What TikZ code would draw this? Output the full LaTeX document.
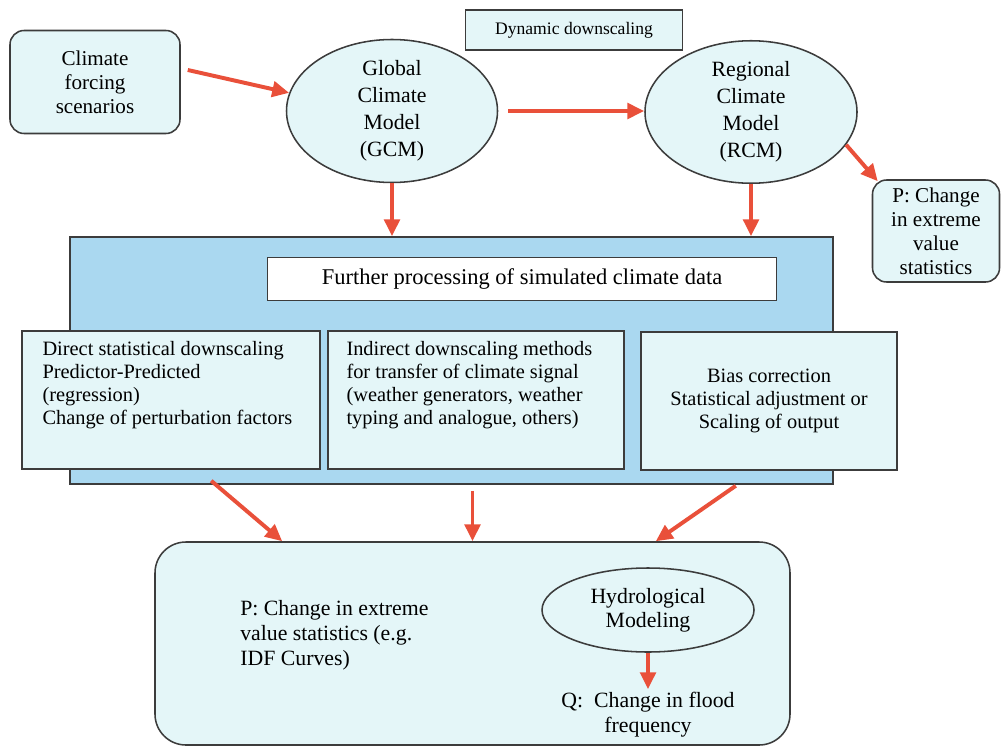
\documentclass[tikz,border=0pt]{standalone}
\usepackage{fontspec}
\setmainfont{Liberation Serif}
\usetikzlibrary{shapes.geometric,arrows.meta,calc}

\definecolor{boxfill}{HTML}{E4F6F8}
\definecolor{bigblue}{HTML}{AAD8F0}
\definecolor{arrowred}{HTML}{E9503A}
\definecolor{edgegray}{HTML}{3C3C3C}
\newcommand{\px}{0.025cm}

\tikzset{
  box/.style={draw=edgegray, line width=1.1pt, fill=boxfill, align=center, inner sep=0pt},
  roundbox/.style={box, rounded corners=10pt},
  oval/.style={box, ellipse},
  arr/.style={draw=arrowred, line width=2.8pt, -{Triangle[length=12pt,width=11pt]}},
  bigtxt/.style={font=\fontsize{15.5}{19.2}\selectfont},
  txt/.style={font=\fontsize{15}{17}\selectfont},
  paneltxt/.style={font=\fontsize{14.5}{16.4}\selectfont, align=left, inner sep=0pt}
}

\begin{document}
\begin{tikzpicture}[x=\px, y=-\px]
    \useasboundingbox (0,0) rectangle (1003,749);

    % Top row: scenarios, global and regional models
    \node[roundbox, txt, minimum width=170*\px, minimum height=103*\px] (forcing) at (95,82) {Climate\\forcing\\scenarios};
    \node[box, font=\fontsize{12.5}{14}\selectfont, minimum width=217*\px, minimum height=40*\px] (dyn) at (574,30) {Dynamic downscaling};
    \node[oval, bigtxt, minimum width=211*\px, minimum height=143*\px] (gcm) at (392,111) {Global\\Climate\\Model\\(GCM)};
    \node[oval, bigtxt, minimum width=212*\px, minimum height=141*\px] (rcm) at (751,112) {Regional\\Climate\\Model\\(RCM)};
    \node[roundbox, txt, minimum width=127*\px, minimum height=102*\px] (pright) at (936,231) {P: Change\\in extreme\\value\\statistics};

    % Processing block
    \node[draw=edgegray, line width=1.1pt, fill=bigblue, minimum width=763*\px, minimum height=247*\px] (big) at (451.5,360.5) {};
    \node[box, fill=white, font=\fontsize{16}{18}\selectfont, minimum width=509*\px, minimum height=43*\px] (further) at (522,279) {Further processing of simulated climate data};

    % Three methods
    \node[box, minimum width=298*\px, minimum height=138*\px] (box1) at (171,400) {};
    \node[paneltxt, anchor=north west] (box1txt) at ([shift={(21,11)}]box1.north west) {Direct statistical downscaling\\Predictor-Predicted\\(regression)\\Change of perturbation factors};
    \node[box, minimum width=296*\px, minimum height=138*\px] (box2) at (476,400) {};
    \node[paneltxt, anchor=north west] (box2txt) at ([shift={(19,11)}]box2.north west) {Indirect downscaling methods\\for transfer of climate signal\\(weather generators, weather\\typing and analogue, others)};
    \node[box, font=\fontsize{14.5}{16.4}\selectfont, minimum width=256*\px, minimum height=138*\px] (box3) at (769,401) {Bias correction\\Statistical adjustment or\\Scaling of output};

    % Impact block
    \node[roundbox, rounded corners=22pt, minimum width=635*\px, minimum height=203*\px] (bottom) at (472.5,643.5) {};
    \node[oval, font=\fontsize{15.5}{17}\selectfont, minimum width=212*\px, minimum height=84*\px] (hydro) at (648,610) {Hydrological\\Modeling};
    \node[font=\fontsize{15.5}{17.8}\selectfont, align=left, anchor=west, inner sep=0pt] (ptxt) at (240,635) {P: Change in extreme\\value statistics (e.g.\\IDF Curves)};
    \node[font=\fontsize{15.5}{17.8}\selectfont, align=center, anchor=north, inner sep=0pt] (qtxt) at (648,692) {Q:~~Change in flood\\frequency};

    % Arrows
    \draw[arr] ([shift={(7,-12)}]forcing.east) -- (gcm.170);
    \draw[arr, shorten <=7pt] (gcm.east) -- (gcm.east -| rcm.west);
    \draw[arr] (rcm.-19) -- ([shift={(6,2)}]pright.north west);
    \draw[arr] (gcm.south) -- (gcm.south |- big.north);
    \draw[arr] (rcm.south) -- (rcm.south |- big.north);
    \draw[arr] ([shift={(142,-4)}]big.south west) -- ([shift={(128,0)}]bottom.north west);
    \draw[arr] ($(bottom.north |- big.south)+(0,6)$) -- (bottom.north);
    \draw[arr] ([shift={(-98,1)}]big.south east) -- ([shift={(-135,0)}]bottom.north east);
    \draw[arr, shorten >=2pt] (hydro.south) -- (qtxt.north);
\end{tikzpicture}
\end{document}
